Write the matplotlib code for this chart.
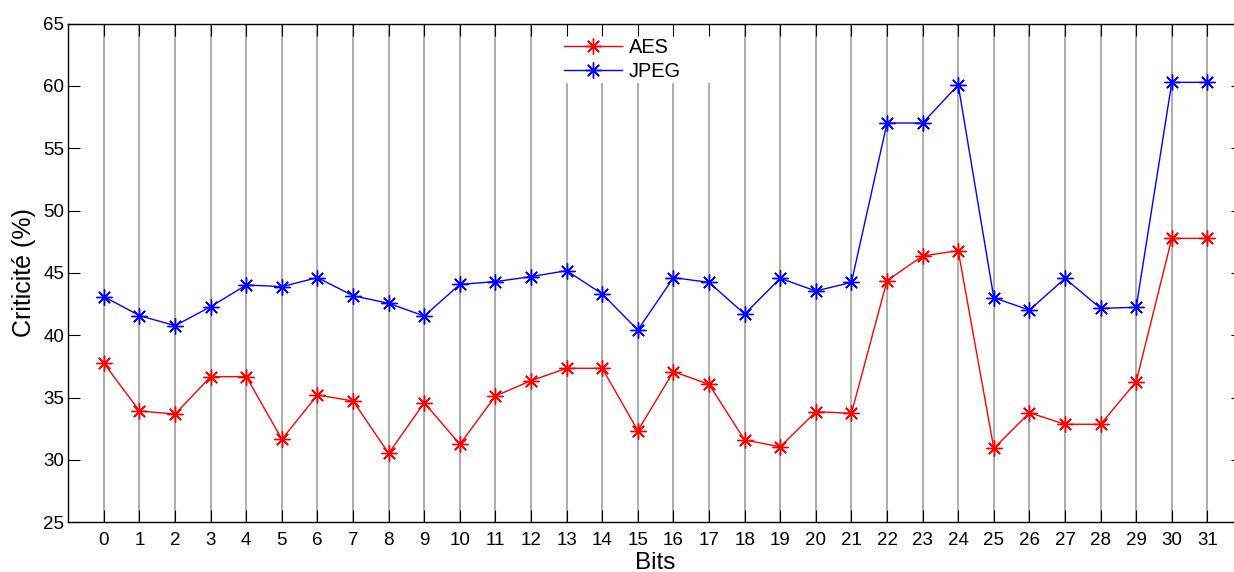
import matplotlib
matplotlib.use("Agg")
import matplotlib.pyplot as plt
from matplotlib.patches import Rectangle
import numpy as np

bits = list(range(32))
aes = [37.75, 33.93, 33.68, 36.68, 36.68, 31.66, 35.21, 34.73, 30.53, 34.59,
       31.25, 35.13, 36.36, 37.35, 37.35, 32.35, 37.08, 36.06, 31.6, 31.06,
       33.87, 33.74, 44.38, 46.36, 46.78, 30.93, 33.79, 32.86, 32.86, 36.28,
       47.77, 47.77]
jpeg = [43.1, 41.57, 40.77, 42.29, 44.03, 43.9, 44.62, 43.17, 42.56, 41.54,
        44.08, 44.3, 44.7, 45.18, 43.31, 40.42, 44.62, 44.24, 41.7, 44.56,
        43.55, 44.24, 57.02, 57.02, 60.07, 43.01, 42.02, 44.56, 42.16, 42.24,
        60.28, 60.28]
yticks = [25, 30, 35, 40, 45, 50, 55, 60, 65]

plt.rcParams['font.family'] = ['Liberation Sans', 'DejaVu Sans']

W, H = 1234, 572
fig = plt.figure(figsize=(W / 100, H / 100), dpi=100)
left, right, bottom, top = 68.3, 1243.0, 522.3, 23.5
ax = fig.add_axes([left / W, (H - bottom) / H, (right - left) / W, (bottom - top) / H])

ax.set_xlim(-1, 32)
ax.set_ylim(25, 65)

# vertical gray lines at each bit
ax.vlines(bits, 25, 65, colors='#a6a6a6', linewidth=1.3, zorder=1)

# white legend background (MATLAB legend box without border)
ax.add_patch(Rectangle((12.3, 60.25), 5.4, 4.7, facecolor='white',
                       edgecolor='none', zorder=1.5))

ax.plot(bits, aes, color='#ff0000', linewidth=1.0, marker=(8, 2, 0),
        markersize=11.5, markeredgewidth=1.0, label='AES', zorder=3)
ax.plot(bits, jpeg, color='#0000ff', linewidth=1.0, marker=(8, 2, 0),
        markersize=11.5, markeredgewidth=1.0, label='JPEG', zorder=3)

ax.set_xticks(bits)
ax.set_yticks(yticks)
ax.tick_params(axis='both', direction='in', length=8.5, width=0.8,
               labelsize=13.5, top=True, right=True, color='black')
ax.tick_params(axis='x', pad=7)
ax.tick_params(axis='y', pad=3)
for s in ax.spines.values():
    s.set_linewidth(1.0)
    s.set_color('black')

ax.set_xlabel('Bits', fontsize=17.5, labelpad=2)
ax.set_ylabel('Criticité (%)', fontsize=18, labelpad=5)

leg = ax.legend(loc='upper left', bbox_to_anchor=(0.409, 1.002), frameon=False,
                fontsize=14.4, handlelength=2.9, handletextpad=0.35,
                borderpad=0.25, labelspacing=0.25)

fig.savefig('out.png', dpi=100)
